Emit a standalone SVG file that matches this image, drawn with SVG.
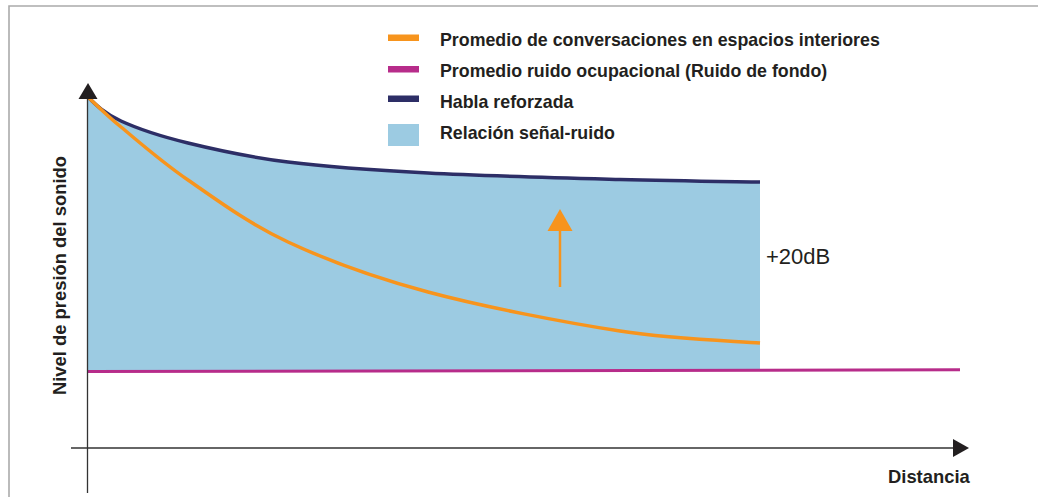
<svg xmlns="http://www.w3.org/2000/svg" width="1038" height="497" viewBox="0 0 1038 497">
<style>
.lbl{font-family:"Liberation Sans",Arial,sans-serif;font-size:17.8px;font-weight:bold;fill:#231F20}
.ax{font-family:"Liberation Sans",Arial,sans-serif;font-size:18.4px;font-weight:bold;fill:#231F20}
.reg{font-family:"Liberation Sans",Arial,sans-serif;font-size:22px;fill:#231F20}
.axis{stroke:#333;stroke-width:1.3;fill:none}
.curve{fill:none;stroke-linejoin:round;stroke-linecap:butt;stroke-width:3.5}
</style>
<defs>
<path id="navyPath" d="M88,97 C96,105 104.3,113.3 121,121 C137.7,128.7 160.2,136.2 188,143 C215.8,149.8 248,157 288,162 C328,167 372.7,170.1 428,173 C483.3,175.9 564.7,178 620,179.5 C675.3,181 736.7,181.6 760,182"/>
</defs>
<rect width="1038" height="497" fill="#fff"/>
<path d="M9,497 V6 H1038" fill="none" stroke="#ababab" stroke-width="1.6"/>
<g id="area">
<path fill="#9CCBE2" d="M88,97 C96,105 104.3,113.3 121,121 C137.7,128.7 160.2,136.2 188,143 C215.8,149.8 248,157 288,162 C328,167 372.7,170.1 428,173 C483.3,175.9 564.7,178 620,179.5 C675.3,181 736.7,181.6 760,182 L760,369 L88,371 Z"/>
</g>
<g id="connectors">
<use href="#navyPath" class="curve" stroke="#2D2E66"/>
<path class="curve" stroke="#F7941D" d="M88,97 C93.5,102 104.3,113.2 121,127 C137.7,140.8 160.2,160.8 188,180 C215.8,199.2 248,223.3 288,242 C328,260.7 372.7,277.2 428,292 C483.3,306.8 564.7,322.5 620,331 C675.3,339.5 736.7,341 760,343"/>
<line x1="88" y1="371.5" x2="960" y2="369.8" stroke="#B72C8A" stroke-width="3"/>
<line x1="560" y1="287" x2="560" y2="228" stroke="#F7941D" stroke-width="2.5"/>
<polygon fill="#F7941D" points="560,209 572.5,231 547.5,231"/>
<line class="axis" x1="87.5" y1="97" x2="87.5" y2="493"/>
<polygon fill="#231F20" points="88,83 97.5,99 78.5,99"/>
<line class="axis" x1="71" y1="448" x2="955" y2="448"/>
<polygon fill="#231F20" points="969,448 953,439 953,457"/>
</g>
<g id="legend">
<rect x="388" y="34.5" width="31" height="6.5" fill="#F7941D"/>
<rect x="388" y="66" width="31" height="6.5" fill="#B72C8A"/>
<rect x="388" y="95.5" width="31" height="6.5" fill="#2D2E66"/>
<rect x="388" y="124" width="31" height="22" fill="#9CCBE2"/>
<text class="lbl" x="440" y="46">Promedio de conversaciones en espacios interiores</text>
<text class="lbl" x="440" y="77">Promedio ruido ocupacional (Ruido de fondo)</text>
<text class="lbl" x="440" y="107.5">Habla reforzada</text>
<text class="lbl" x="440" y="139">Relación señal-ruido</text>
</g>
<g id="labels">
<text class="reg" x="766" y="264">+20dB</text>
<text class="ax" x="888" y="483">Distancia</text>
<text class="ax" transform="translate(66,275.5) rotate(-90)" text-anchor="middle">Nivel de presión del sonido</text>
</g>
</svg>
